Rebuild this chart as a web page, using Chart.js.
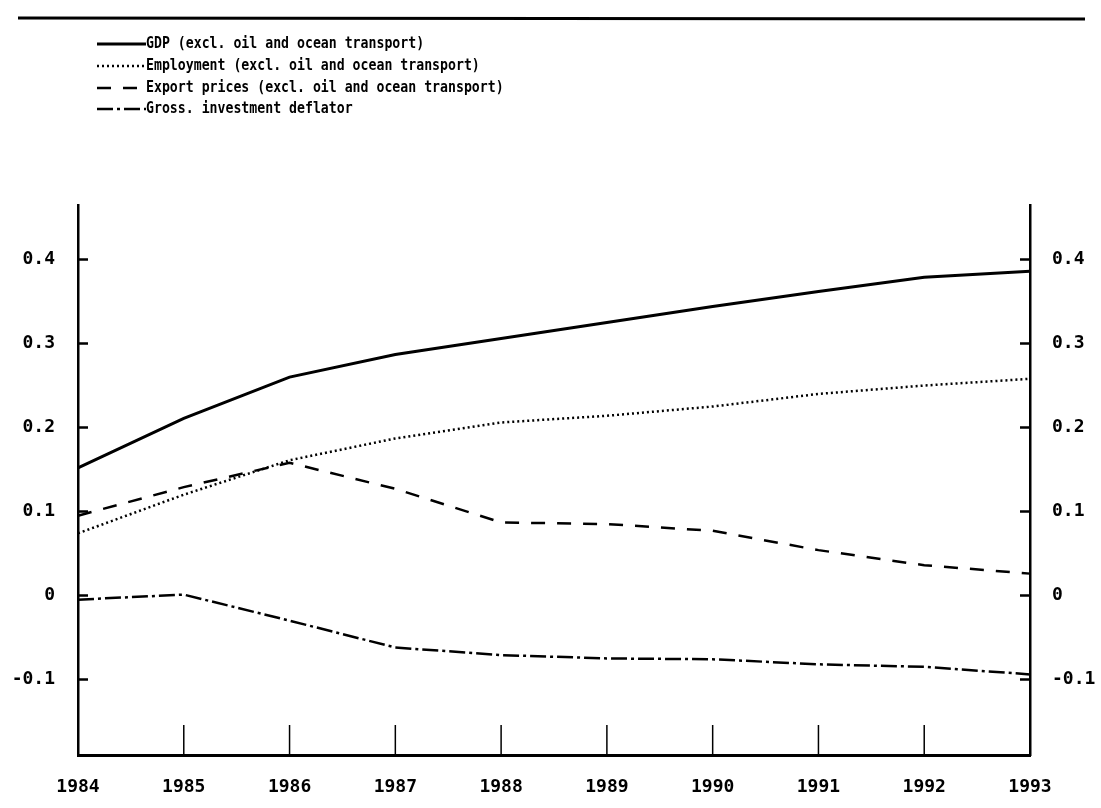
<!DOCTYPE html>
<html>
<head>
<meta charset="utf-8">
<script src="https://cdn.jsdelivr.net/npm/chart.js@4.4.1/dist/chart.umd.min.js"></script>
<style>
    html, body { margin: 0; padding: 0; background: #fff; }
    #wrap { position: relative; width: 1101px; height: 808px; }
</style>
</head>
<body>
<div id="wrap"><canvas id="chart-growth"></canvas></div>
<script>
// values
var years = ['1984', '1985', '1986', '1987', '1988', '1989', '1990', '1991', '1992', '1993'];
var gdpValues = [0.152, 0.211, 0.260, 0.287, 0.306, 0.325, 0.344, 0.362, 0.379, 0.386];
var employmentValues = [0.074, 0.120, 0.161, 0.187, 0.206, 0.214, 0.225, 0.240, 0.250, 0.258];
var exportPriceValues = [0.095, 0.129, 0.158, 0.127, 0.087, 0.085, 0.077, 0.054, 0.036, 0.026];
var deflatorValues = [-0.005, 0.001, -0.030, -0.062, -0.071, -0.075, -0.076, -0.082, -0.085, -0.094];
var yTickValues = [-0.1, 0, 0.1, 0.2, 0.3, 0.4];
var yMin = -0.19;
var yMax = 0.465;

var labelFont = { family: "'DejaVu Sans Mono', monospace", size: 18, weight: 'bold' };

function fmtTick(value) {
    var v = Math.round(value * 10) / 10;
    if (v === 0) {
        return '0';
    }
    return v.toFixed(1);
}

function fixedTicks(scale) {
    scale.ticks = yTickValues.map(function (v) { return { value: v }; });
}

// plotter style: ticks point into the plot, rule line on top, legend lines
var plotterDecor = {
    id: 'plotterDecor',
    afterDraw: function (chart) {
        var ctx = chart.ctx;
        var area = chart.chartArea;
        var yScale = chart.scales.y;
        var xScale = chart.scales.x;
        ctx.save();
        ctx.strokeStyle = '#000';
        ctx.lineWidth = 2.5;
        ctx.setLineDash([]);

        yTickValues.forEach(function (v) {
            var py = yScale.getPixelForValue(v);
            ctx.beginPath();
            ctx.moveTo(area.left, py);
            ctx.lineTo(area.left + 10, py);
            ctx.moveTo(area.right, py);
            ctx.lineTo(area.right - 10, py);
            ctx.stroke();
        });

        ctx.lineWidth = 1.5;
        for (var i = 1; i < years.length - 1; i++) {
            var px = xScale.getPixelForValue(i);
            ctx.beginPath();
            ctx.moveTo(px, area.bottom);
            ctx.lineTo(px, area.bottom - 30);
            ctx.stroke();
        }

        // heavy rule under the (cut off) heading
        ctx.lineWidth = 3;
        ctx.beginPath();
        ctx.moveTo(18, 18);
        ctx.lineTo(1085, 19);
        ctx.stroke();

        // legend, one entry per row
        var rowY = [44, 66, 88, 109];
        ctx.font = "bold 15px 'DejaVu Sans Mono', monospace";
        ctx.fillStyle = '#000';
        ctx.textBaseline = 'middle';
        chart.data.datasets.forEach(function (ds, idx) {
            var y = rowY[idx];
            ctx.lineWidth = ds.borderWidth;
            ctx.setLineDash(ds.borderDash || []);
            ctx.beginPath();
            ctx.moveTo(97, y);
            ctx.lineTo(146, y);
            ctx.stroke();
            ctx.setLineDash([]);
            // squeeze a little, the plotter font is narrow
            ctx.save();
            ctx.translate(146, y);
            ctx.scale(0.88, 1);
            ctx.fillText(ds.label, 0, 0);
            ctx.restore();
        });
        ctx.restore();
    }
};

var ctx = document.getElementById('chart-growth').getContext('2d');
new Chart(ctx, {
    type: 'line',
    data: {
        labels: years,
        datasets: [{
            label: 'GDP (excl. oil and ocean transport)',
            data: gdpValues,
            borderColor: '#000',
            borderWidth: 3,
            borderDash: []
        }, {
            label: 'Employment (excl. oil and ocean transport)',
            data: employmentValues,
            borderColor: '#000',
            borderWidth: 2.5,
            borderDash: [2, 3]
        }, {
            label: 'Export prices (excl. oil and ocean transport)',
            data: exportPriceValues,
            borderColor: '#000',
            borderWidth: 2.5,
            borderDash: [14, 12]
        }, {
            label: 'Gross. investment deflator',
            data: deflatorValues,
            borderColor: '#000',
            borderWidth: 2.5,
            borderDash: [16, 4, 3, 4]
        }]
    },
    options: {
        responsive: true,
        maintainAspectRatio: false,
        animation: false,
        elements: {
            point: { radius: 0 },
            line: { tension: 0, fill: false }
        },
        layout: {
            padding: { top: 205, left: 0, right: 0, bottom: 0 }
        },
        plugins: {
            legend: { display: false },
            tooltip: { enabled: false }
        },
        scales: {
            x: {
                offset: false,
                grid: { display: false, drawTicks: false },
                border: { display: true, color: '#000', width: 3 },
                ticks: {
                    color: '#000',
                    font: labelFont,
                    padding: 22,
                    maxRotation: 0,
                    autoSkip: false
                },
                afterFit: function (scale) { scale.height = 53; }
            },
            y: {
                position: 'left',
                min: yMin,
                max: yMax,
                afterBuildTicks: fixedTicks,
                grid: { display: false, drawTicks: false },
                border: { display: true, color: '#000', width: 2.5 },
                ticks: {
                    color: '#000',
                    font: labelFont,
                    padding: 23,
                    callback: fmtTick
                },
                afterFit: function (scale) { scale.width = 78; }
            },
            y2: {
                position: 'right',
                min: yMin,
                max: yMax,
                afterBuildTicks: fixedTicks,
                grid: { display: false, drawTicks: false },
                border: { display: true, color: '#000', width: 2.5 },
                ticks: {
                    color: '#000',
                    font: labelFont,
                    padding: 22,
                    callback: fmtTick
                },
                afterFit: function (scale) { scale.width = 71; }
            }
        }
    },
    plugins: [plotterDecor]
});
</script>
</body>
</html>
